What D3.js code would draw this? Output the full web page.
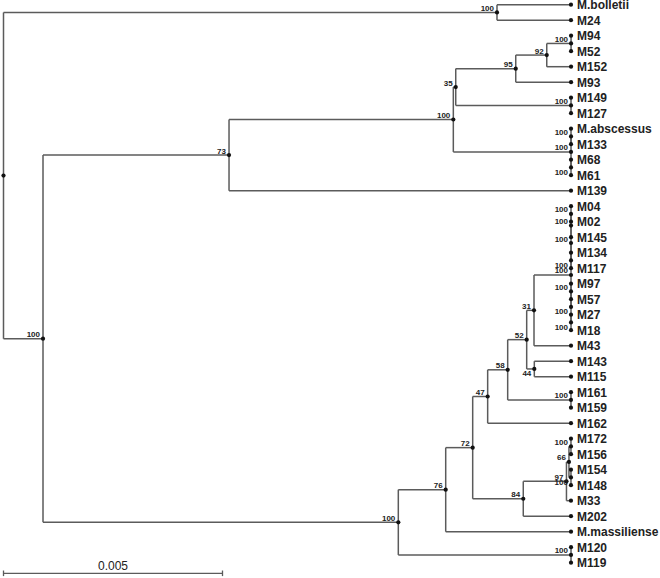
<!DOCTYPE html>
<html><head><meta charset="utf-8">
<script src="https://cdn.jsdelivr.net/npm/d3@7/dist/d3.min.js"></script>
<style>body{margin:0;background:#fff}svg{display:block}</style>
</head><body>
<svg id="chart" width="660" height="578"></svg>
<script>
// ---- DATA ----
const nodeIds = [
  "root",
  "nBol", "M.bolletii", "M24",
  "nA", "n73", "n100b", "n35", "n95", "n92", "n9452", "M94", "M52", "M152", "M93",
  "n149", "M149", "M127",
  "nC", "nC1", "M.abscessus", "M133", "nC2", "M68", "M61",
  "M139",
  "nB", "n76", "n72", "n47", "n58", "n52", "n31",
  "nR", "nL", "nL1", "nL2", "M04", "M02", "M145", "nL3", "M134", "M117",
  "nRt", "nR1", "M97", "M57", "nR2", "M27", "M18",
  "M43", "n44", "M143", "M115",
  "n161", "M161", "M159",
  "M162",
  "n84", "n97", "nQ", "nQ1", "M172", "M156", "nQ2", "M154", "M148", "M33", "M202",
  "M.massiliense",
  "n120", "M120", "M119"
];
const parentIds = [
  null,
  "root", "nBol", "nBol",
  "root", "nA", "n73", "n100b", "n35", "n95", "n92", "n9452", "n9452", "n92", "n95",
  "n35", "n149", "n149",
  "n100b", "nC", "nC1", "nC1", "nC", "nC2", "nC2",
  "n73",
  "nA", "nB", "n76", "n72", "n47", "n58", "n52",
  "n31", "nR", "nL", "nL1", "nL2", "nL2", "nL1", "nL", "nL3", "nL3",
  "nR", "nRt", "nR1", "nR1", "nRt", "nR2", "nR2",
  "n31", "n52", "n44", "n44",
  "n58", "n161", "n161",
  "n47",
  "n72", "n84", "n97", "nQ", "nQ1", "nQ1", "nQ", "nQ2", "nQ2", "n97", "n84",
  "n76",
  "nB", "n120", "n120"
];
const branchLengths = [
  0,
  0.011267, 0.001689, 0.001689,
  0.000902, 0.004247, 0.005121, 0.000055, 0.001370, 0.000708, 0.000555, 0, 0, 0.000555, 0.001263,
  0.002632, 0, 0,
  0.002687, 0, 0, 0, 0, 0, 0,
  0.007808,
  0.008112, 0.001082, 0.000616, 0.000342, 0.000457, 0.000434, 0.000167,
  0.000845, 0, 0, 0, 0, 0, 0, 0, 0, 0,
  0, 0, 0, 0, 0, 0, 0,
  0.000845, 0.000174, 0.000838, 0.000838,
  0.001445, 0, 0,
  0.001902,
  0.001155, 0.000986, 0.000057, 0.000046, 0, 0, 0.000046, 0, 0, 0.000103, 0.001089,
  0.002861,
  0.003943, 0, 0
];
const bootstrap = [
  null,
  100, null, null,
  100, 73, 100, 35, 95, 92, 100, null, null, null, null,
  100, null, null,
  100, 100, null, null, 100, null, null,
  null,
  100, 76, 72, 47, 58, 52, 31,
  100, 100, 100, 100, null, null, null, 100, null, null,
  100, 100, null, null, 100, null, null,
  null, 44, null, null,
  100, null, null,
  null,
  84, 97, 66, 100, null, null, 100, null, null, null, null,
  null,
  100, null, null
];
const scaleBarValue = 0.005;
const scaleBarLabel = "0.005";

// ---- BUILD ----
const rows = nodeIds.map((id, i) => ({ id, parent: parentIds[i], len: branchLengths[i], boot: bootstrap[i] }));
const root = d3.stratify().id(d => d.id).parentId(d => d.parent)(rows);
root.each(n => { n.dist = n.parent ? n.parent.dist + n.data.len : 0; });

const x = d3.scaleLinear().domain([0, scaleBarValue]).range([3.5, 222.5]);
const leaves = root.leaves();
const y = d3.scalePoint().domain(leaves.map(d => d.id)).range([4.7, 562.7]);

root.eachAfter(n => {
  n.px = x(n.dist);
  if (n.children) {
    n.py = (n.children[0].py + n.children[n.children.length - 1].py) / 2;
  } else {
    n.py = y(n.id);
  }
});

const svg = d3.select("#chart");
const lineColor = "#5b5b5b";
const g = svg.append("g");

// vertical connectors
const internals = root.descendants().filter(n => n.children);
g.selectAll("line.v").data(internals).join("line")
  .attr("x1", d => d.px).attr("x2", d => d.px)
  .attr("y1", d => d.children[0].py).attr("y2", d => d.children[d.children.length - 1].py)
  .attr("stroke", lineColor).attr("stroke-width", 1.5);

// horizontal branches
const nonRoot = root.descendants().filter(n => n.parent);
g.selectAll("line.h").data(nonRoot).join("line")
  .attr("x1", d => d.parent.px).attr("x2", d => d.px)
  .attr("y1", d => d.py).attr("y2", d => d.py)
  .attr("stroke", lineColor).attr("stroke-width", 1.5);

// node dots
g.selectAll("circle").data(root.descendants()).join("circle")
  .attr("cx", d => d.px).attr("cy", d => d.py).attr("r", 2.1)
  .attr("fill", "#111");

// leaf labels
g.selectAll("text.leaf").data(leaves).join("text")
  .attr("x", d => d.px + 6).attr("y", d => d.py + 4.3)
  .attr("font-family", "'Liberation Sans', Arial, sans-serif")
  .attr("font-size", 12).attr("font-weight", "bold").attr("fill", "#222")
  .text(d => d.id);

// bootstrap labels
const supported = root.descendants().filter(n => n.data.boot != null);
g.selectAll("text.boot").data(supported).join("text")
  .attr("x", d => d.px - 3)
  .attr("y", d => {
    const isLower = d.parent && d.parent.children.indexOf(d) > 0;
    const shortBranch = (d.px - d.parent.px) < 20;
    return (isLower && shortBranch) ? d.py + 7.5 : d.py - 1.5;
  })
  .attr("text-anchor", "end")
  .attr("font-family", "'Liberation Sans', Arial, sans-serif")
  .attr("font-size", 8).attr("font-weight", "bold").attr("fill", "#222")
  .text(d => d.data.boot);

// scale bar
const sb = svg.append("g");
const sbY = 573.3;
sb.append("line").attr("x1", x(0)).attr("x2", x(scaleBarValue)).attr("y1", sbY).attr("y2", sbY)
  .attr("stroke", lineColor).attr("stroke-width", 1.3);
[0, scaleBarValue].forEach(v => {
  sb.append("line").attr("x1", x(v)).attr("x2", x(v)).attr("y1", sbY - 2.8).attr("y2", sbY + 2.8)
    .attr("stroke", lineColor).attr("stroke-width", 1.3);
});
sb.append("text").attr("x", (x(0) + x(scaleBarValue)) / 2).attr("y", 570)
  .attr("text-anchor", "middle")
  .attr("font-family", "'Liberation Sans', Arial, sans-serif")
  .attr("font-size", 12).attr("fill", "#222")
  .text(scaleBarLabel);
</script>
</body></html>
